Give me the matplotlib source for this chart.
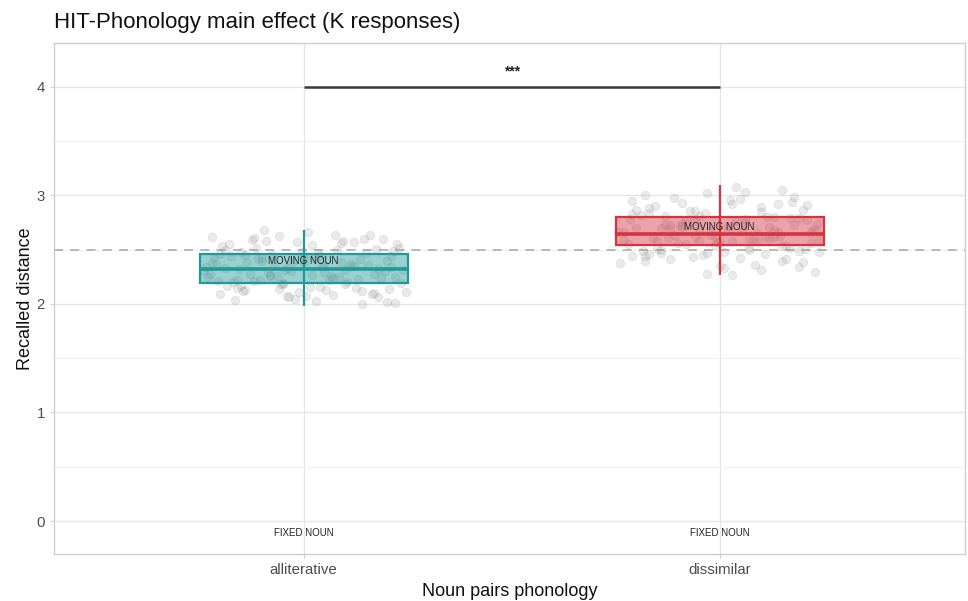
import matplotlib
matplotlib.use("Agg")
import matplotlib.pyplot as plt
from matplotlib.patches import Rectangle
from matplotlib.ticker import MultipleLocator

plt.rcParams['font.family'] = ['Liberation Sans', 'DejaVu Sans']

# ---- data ----
categories = ["alliterative", "dissimilar"]
box_low = [1.98, 2.27]      # whisker low
box_q1 = [2.19, 2.54]
box_median = [2.32, 2.645]
box_q3 = [2.46, 2.80]
box_high = [2.68, 3.10]     # whisker high
colors = ["#1f9a98", "#d6333f"]
moving_label_y = [2.40, 2.71]
fixed_label_y = -0.11
reference_line = 2.5
sig_y = 4.0
sig_label = "***"

allit_dx = [-0.22,-0.18,-0.15,-0.11,-0.07,-0.03,0.02,0.06,0.10,0.14,0.18,0.22,
            -0.20,-0.16,-0.12,-0.08,-0.04,0.00,0.04,0.08,0.12,0.16,0.20,0.24,
            -0.23,-0.19,-0.14,-0.09,-0.05,-0.01,0.03,0.07,0.11,0.15,0.19,0.23,
            -0.21,-0.17,-0.13,-0.10,-0.06,-0.02,0.01,0.05,0.09,0.13,0.17,0.21,
            -0.24,-0.20,-0.15,-0.12,-0.08,-0.04,0.00,0.05,0.09,0.14,0.18,0.22,
            -0.19,-0.14,-0.10,-0.05,0.02,0.07,0.12,0.17,0.21,-0.22,-0.16,-0.06,0.04,0.10,0.20,
            -0.235,-0.205,-0.175,-0.145,-0.115,-0.085,-0.055,-0.025,0.005,0.035,0.065,0.095,0.125,0.155,0.185,0.215,0.245,
            -0.225,-0.195,-0.165,-0.135,-0.105,-0.075,-0.045,-0.015,0.015,0.045,0.075,0.105,0.135,0.165,0.195,0.225,
            -0.215,-0.185,-0.125,-0.065,-0.005,0.055,0.115,0.175,0.235,-0.155,-0.095,-0.035,0.025,0.085,0.145,0.205]
allit_y = [2.62,2.55,2.48,2.41,2.36,2.30,2.27,2.22,2.18,2.12,2.06,2.01,
           2.09,2.15,2.21,2.26,2.33,2.38,2.44,2.50,2.57,2.64,2.40,2.31,
           2.25,2.33,2.45,2.58,2.19,2.11,2.03,2.24,2.35,2.47,2.60,2.52,
           2.37,2.20,2.28,2.42,2.14,2.05,2.66,2.29,2.39,2.23,2.10,2.34,
           2.30,2.46,2.17,2.61,2.27,2.07,2.43,2.36,2.56,2.00,2.32,2.25,
           2.50,2.13,2.40,2.18,2.54,2.08,2.35,2.28,2.44,2.38,2.22,2.63,2.16,2.31,2.02,
           2.34,2.21,2.44,2.12,2.52,2.29,2.18,2.39,2.07,2.47,2.26,2.58,2.15,2.36,2.24,2.49,2.11,
           2.28,2.53,2.04,2.38,2.22,2.45,2.31,2.57,2.16,2.35,2.64,2.20,2.41,2.09,2.30,2.55,
           2.43,2.17,2.59,2.26,2.48,2.13,2.37,2.51,2.19,2.32,2.68,2.06,2.42,2.25,2.60,2.14]
diss_dx = [-0.21,-0.17,-0.13,-0.09,-0.05,-0.01,0.03,0.07,0.11,0.15,0.19,0.23,
           -0.24,-0.18,-0.14,-0.10,-0.06,-0.02,0.02,0.06,0.10,0.14,0.18,0.22,
           -0.22,-0.16,-0.12,-0.07,-0.03,0.01,0.05,0.09,0.13,0.17,0.21,0.24,
           -0.20,-0.15,-0.11,-0.08,-0.04,0.00,0.04,0.08,0.12,0.16,0.20,-0.23,
           -0.19,-0.14,-0.09,-0.05,0.03,0.06,0.11,0.15,0.19,0.23,-0.17,-0.12,
           -0.06,-0.01,0.05,0.10,0.14,0.20,-0.21,-0.13,-0.03,0.07,0.13,0.22,-0.18,0.02,0.17,
           -0.245,-0.215,-0.185,-0.155,-0.125,-0.095,-0.065,-0.035,-0.005,0.025,0.055,0.085,0.115,0.145,0.175,0.205,0.235,
           -0.23,-0.20,-0.17,-0.14,-0.11,-0.08,-0.05,-0.02,0.01,0.04,0.07,0.10,0.13,0.16,0.19,0.22,
           -0.21,-0.15,-0.09,-0.03,0.03,0.09,0.15,0.21,-0.18,-0.12,-0.06,0.00,0.06,0.12,0.18,0.24]
diss_y = [2.95,2.88,2.81,2.74,2.69,2.63,2.58,2.52,2.46,2.40,2.34,2.29,
          2.38,2.44,2.50,2.56,2.62,2.67,2.72,2.78,2.85,2.92,2.99,2.65,
          2.55,2.61,2.73,2.86,3.02,2.48,2.42,2.57,2.68,2.79,2.91,2.60,
          2.70,2.51,2.64,2.77,2.45,2.35,3.08,2.59,2.71,2.53,2.39,2.66,
          2.82,2.47,2.93,2.58,2.27,2.75,2.62,3.05,2.49,2.69,2.84,2.41,
          2.76,2.54,2.97,2.31,2.66,2.87,2.44,2.73,2.28,2.60,2.80,2.56,3.00,2.68,2.52,
          2.66,2.78,2.49,2.90,2.61,2.72,2.43,2.84,2.57,2.96,2.68,2.36,2.80,2.63,2.94,2.51,2.74,
          2.59,2.87,2.46,2.70,2.98,2.55,2.81,2.64,2.33,2.76,2.50,2.89,2.62,2.41,2.79,2.67,
          2.83,2.58,2.71,2.47,2.92,2.65,2.53,2.77,2.40,2.69,2.86,2.56,3.03,2.61,2.73,2.48]
jitter_dx = [allit_dx, diss_dx]
jitter_y = [allit_y, diss_y]

# ---- figure ----
fig = plt.figure(figsize=(9.68, 6.01), dpi=100)
ax = fig.add_axes([0.0558, 0.0782, 0.9411, 0.8503])

positions = [1, 2]
ax.set_xlim(0.40, 2.59)
ax.set_ylim(-0.304, 4.405)

# grid
ax.yaxis.set_major_locator(MultipleLocator(1))
ax.yaxis.set_minor_locator(MultipleLocator(0.5))
ax.set_xticks(positions)
ax.set_xticklabels(categories)
ax.grid(which='major', color='#e6e6e6', linewidth=1.0, zorder=0)
ax.grid(which='minor', axis='y', color='#f0f0f0', linewidth=0.7, zorder=0)
ax.set_axisbelow(True)
for s in ax.spines.values():
    s.set_color('#cfcfcf')
    s.set_linewidth(1.0)
ax.tick_params(axis='both', which='major', colors='#cfcfcf', length=3, width=0.8,
               labelcolor='#4d4d4d', labelsize=10.8)
ax.tick_params(axis='y', which='minor', length=0)

# reference line
ax.axhline(reference_line, color='#b3b3b3', linestyle=(0, (5, 4)), linewidth=1.3, zorder=1)

# jitter points
for pos, dx, ys in zip(positions, jitter_dx, jitter_y):
    xs = [pos + d for d in dx]
    ax.scatter(xs, ys, s=36, color='#9a9a9a', alpha=0.2, edgecolors='#8a8a8a',
               linewidths=0.6, zorder=2)

# boxes
bw = 0.5
for i, pos in enumerate(positions):
    c = colors[i]
    ax.plot([pos, pos], [box_low[i], box_high[i]], color=c, linewidth=1.6, zorder=3,
            solid_capstyle='butt')
    ax.add_patch(Rectangle((pos - bw / 2, box_q1[i]), bw, box_q3[i] - box_q1[i],
                           facecolor=c, alpha=0.45, edgecolor='none', zorder=4))
    ax.add_patch(Rectangle((pos - bw / 2, box_q1[i]), bw, box_q3[i] - box_q1[i],
                           facecolor='none', edgecolor=c, linewidth=1.6, zorder=5))
    ax.plot([pos - bw / 2, pos + bw / 2], [box_median[i]] * 2, color=c, linewidth=2.6,
            zorder=5, solid_capstyle='butt')
    ax.text(pos, moving_label_y[i], "MOVING NOUN", ha='center', va='center',
            fontsize=7, color='#222222', zorder=6)
    ax.text(pos, fixed_label_y, "FIXED NOUN", ha='center', va='center',
            fontsize=7, color='#222222', zorder=6)

# significance bar
ax.plot(positions, [sig_y, sig_y], color='#3a3a3a', linewidth=1.8, zorder=6,
        solid_capstyle='butt')
ax.text(sum(positions) / 2, sig_y + 0.14, sig_label, ha='center', va='center',
        fontsize=10, color='#222222', fontweight='bold')

ax.set_xlabel("Noun pairs phonology", fontsize=13, color='#111111', labelpad=4)
ax.set_ylabel("Recalled distance", fontsize=13, color='#111111', labelpad=1.5)
fig.text(0.0558, 0.963, "HIT-Phonology main effect (K responses)", fontsize=16,
         color='#111111', ha='left', va='center')

fig.savefig("out.png", dpi=100)
